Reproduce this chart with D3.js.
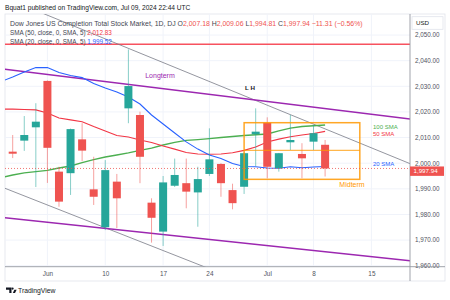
<!DOCTYPE html>
<html><head><meta charset="utf-8">
<script src="https://cdn.jsdelivr.net/npm/d3@7"></script>
<style>body{margin:0;background:#fff}svg{display:block;font-family:"Liberation Sans",Arial,sans-serif}</style>
</head><body><svg id="c" width="450" height="300"></svg>
<script>
// ---- data ----
const candleDates = ["2024-05-29","2024-05-30","2024-05-31","2024-06-03","2024-06-04","2024-06-05","2024-06-06","2024-06-07",
  "2024-06-10","2024-06-11","2024-06-12","2024-06-13","2024-06-14","2024-06-17","2024-06-18","2024-06-20","2024-06-21",
  "2024-06-24","2024-06-25","2024-06-26","2024-06-27","2024-06-28","2024-07-01","2024-07-02","2024-07-03","2024-07-05",
  "2024-07-08","2024-07-09"];
const open  = [2004.5,2008.8,2014.0,2032.1,1996.7,1996.1,2009.3,1989.8,1975.0,1992.8,2021.4,2018.8,1984.6,1973.3,1991.2,1992.2,1988.6,1995.8,1999.7,1989.5,1990.8,2011.3,2015.8,1998.0,2008.15,2003.6,2008.4,2007.18];
const high  = [2011.0,2018.4,2023.4,2032.3,1998.6,2013.5,2015.6,2002.5,2001.2,1995.8,2044.4,2020.1,1986.3,1995.0,2001.8,2001.8,1998.6,2013.6,2000.0,1992.0,2004.2,2021.4,2017.9,2004.0,2018.8,2007.8,2014.9,2009.06];
const low   = [2002.0,2004.8,1990.7,1992.3,1983.0,1987.6,2000.8,1983.7,1973.9,1974.7,2015.6,1992.2,1969.0,1967.7,1990.7,1982.4,1975.2,1995.0,1986.9,1982.0,1988.0,1998.9,1994.1,1996.7,2005.15,1994.1,2005.15,1994.81];
const close = [2003.7,2011.0,2016.2,2006.0,1985.0,2013.3,2004.9,1986.9,1997.3,1986.3,2030.1,2002.5,1978.7,1992.5,1995.4,1988.9,1993.8,2001.5,1992.2,1984.4,2003.9,2012.3,1998.6,2003.9,2009.05,2001.9,2011.7,1997.94];

const smaDates = ["2024-05-28"].concat(candleDates);
const sma20  = [2031.9,2033.6,2035.6,2037.3,2037.3,2035.4,2034.2,2033.4,2031.1,2029.3,2027.8,2025.8,2023.1,2018.8,2015.3,2011.8,2008.3,2005.5,2003.2,2001.8,1999.9,1998.7,1998.6,1998.1,1998.0,1998.6,1998.2,1998.5,1998.7];
const sma50  = [2021.1,2021.1,2020.95,2020.8,2019.6,2017.6,2016.9,2016.2,2014.3,2012.6,2010.8,2010.2,2009.05,2008.1,2006.7,2005.5,2004.2,2003.6,2003.5,2003.6,2004.1,2005.0,2006.3,2008.3,2009.4,2010.3,2011.0,2011.6,2012.4];
const sma100 = [1994.4,1995.4,1996.2,1996.7,1997.2,1998.1,1998.9,2000.2,2001.4,2002.4,2003.2,2004.0,2005.0,2005.9,2007.1,2008.1,2008.9,2009.2,2009.6,2010.0,2010.4,2010.8,2011.1,2011.4,2012.6,2013.7,2014.3,2014.6,2014.9];

const xTickDates  = ["2024-06-03","2024-06-10","2024-06-17","2024-06-24","2024-07-01","2024-07-08","2024-07-15"];
const xTickLabels = ["Jun","10","17","24","Jul","8","15"];
const yTicks = [1960,1970,1980,1990,2000,2010,2020,2030,2040,2050];
const holidays = ["2024-06-19","2024-07-04"];

// drawings (date, price)
const upperChannel = [["2024-05-31",2059.6],["2024-07-19",1998.6]];
const lowerChannel = [["2024-05-28",1990.8],["2024-06-24",1958.8]];
const longtermTop  = [["2024-05-28",2036.8],["2024-07-19",2016.9]];
const longtermBot  = [["2024-05-28",1978.9],["2024-07-19",1961.6]];
const resistance   = 2046.4;
const midRect = {from:"2024-06-27", to:"2024-07-12", top:2015.8, bottom:1993.7, mid:2005.0};

// ---- scales ----
const fmtD = d3.timeFormat("%Y-%m-%d");
const cal = d3.timeDay.range(new Date(2024,4,28), new Date(2024,6,20))
  .filter(d => d.getDay()!==0 && d.getDay()!==6 && !holidays.includes(fmtD(d))).map(fmtD);
const idx = d => cal.indexOf(d);
const x = d3.scaleLinear().domain([1,28]).range([12.7,325.1]);
const y = d3.scaleLinear().domain([1960,2050]).range([265.7,35.05]);
const X = d => x(idx(d));

const L=5, R=410, T=14, B=266.7;
const svg = d3.select("#c");
const RED="#ef5350", GREEN="#26a69a";

// clip
svg.append("defs").append("clipPath").attr("id","pc").append("rect").attr("x",L).attr("y",T).attr("width",R-L).attr("height",B-T);

// header
svg.append("text").attr("x",5).attr("y",10).attr("font-size",6.6).attr("fill","#131722")
  .text("Bquat1 published on TradingView.com, Jul 09, 2024 22:44 UTC");

// panel frame
svg.append("rect").attr("x",L).attr("y",T).attr("width",445-L).attr("height",281-T).attr("fill","#fff").attr("stroke","#e0e3eb").attr("stroke-width",0.8);

// grid
const g = svg.append("g").attr("clip-path","url(#pc)");
g.selectAll(".hg").data(yTicks).join("line").attr("x1",L).attr("x2",R).attr("y1",d=>y(d)).attr("y2",d=>y(d)).attr("stroke","#f0f3fa").attr("stroke-width",1);
g.selectAll(".vg").data(xTickDates).join("line").attr("y1",T).attr("y2",B).attr("x1",d=>X(d)).attr("x2",d=>X(d)).attr("stroke","#f0f3fa").attr("stroke-width",1);

// drawings
const seg = (pts,col,w) => g.append("line").attr("x1",X(pts[0][0])).attr("y1",y(pts[0][1])).attr("x2",X(pts[1][0])).attr("y2",y(pts[1][1])).attr("stroke",col).attr("stroke-width",w);
g.append("line").attr("x1",L).attr("x2",R).attr("y1",y(resistance)).attr("y2",y(resistance)).attr("stroke","#f7525f").attr("stroke-width",1.4);
seg(upperChannel,"#787b86",0.8);
seg(lowerChannel,"#787b86",0.8);
seg(longtermTop,"#9c27b0",1.5);
seg(longtermBot,"#9c27b0",1.5);

// SMAs
const line = arr => d3.line().x((d,i)=>X(smaDates[i])).y(d=>y(d))(arr);
g.append("path").attr("d",line(sma100)).attr("fill","none").attr("stroke","#4caf50").attr("stroke-width",1.4);
g.append("path").attr("d",line(sma50)).attr("fill","none").attr("stroke","#f23645").attr("stroke-width",1.1);
g.append("path").attr("d",line(sma20)).attr("fill","none").attr("stroke","#2962ff").attr("stroke-width",1.1);

// candles
const cd = candleDates.map((d,i)=>({d,o:open[i],h:high[i],l:low[i],c:close[i]}));
g.selectAll(".wk").data(cd).join("line").attr("x1",d=>X(d.d)).attr("x2",d=>X(d.d)).attr("y1",d=>y(d.h)).attr("y2",d=>y(d.l))
  .attr("stroke",d=>d.c>=d.o?GREEN:RED).attr("stroke-opacity",0.55).attr("stroke-width",1);
g.selectAll(".bd").data(cd).join("rect").attr("x",d=>X(d.d)-4).attr("width",8)
  .attr("y",d=>y(Math.max(d.o,d.c))).attr("height",d=>Math.max(1,Math.abs(y(d.o)-y(d.c))))
  .attr("fill",d=>d.c>=d.o?GREEN:RED);

// midterm rectangle
const rx1=X(midRect.from), rx2=X(midRect.to);
g.append("rect").attr("x",rx1).attr("y",y(midRect.top)).attr("width",rx2-rx1).attr("height",y(midRect.bottom)-y(midRect.top))
  .attr("fill","none").attr("stroke","#ff9800").attr("stroke-width",1.5).attr("stroke-opacity",0.85);
g.append("line").attr("x1",rx1).attr("x2",rx2).attr("y1",y(midRect.mid)).attr("y2",y(midRect.mid)).attr("stroke","#ff9800").attr("stroke-width",1.3).attr("stroke-opacity",0.7);

// last price dotted
const last = close[close.length-1];
g.append("line").attr("x1",L).attr("x2",R).attr("y1",y(last)).attr("y2",y(last)).attr("stroke",RED).attr("stroke-width",0.8).attr("stroke-dasharray","1,2");

// annotation texts
svg.append("text").attr("x",160).attr("y",77.5).attr("text-anchor","middle").attr("font-size",7).attr("fill","#9c27b0").text("Longterm");
svg.append("text").attr("x",245).attr("y",90).attr("font-size",6.2).attr("font-weight","bold").attr("fill","#131722").text("L H");
svg.append("text").attr("x",352).attr("y",187.3).attr("text-anchor","middle").attr("font-size",7).attr("fill","#ff9800").text("Midterm");
svg.append("text").attr("x",373).attr("y",128.5).attr("font-size",6).attr("fill","#4caf50").text("100 SMA");
svg.append("text").attr("x",373).attr("y",136.3).attr("font-size",6).attr("fill","#f23645").text("50 SMA");
svg.append("text").attr("x",373).attr("y",166.3).attr("font-size",6).attr("fill","#2962ff").text("20 SMA");

// legend
const lg = svg.append("g").attr("font-size",6.3);
const t1 = lg.append("text").attr("x",10).attr("y",25.5).attr("fill","#434651").attr("font-size",6.9);
t1.append("tspan").text("Dow Jones US Completion Total Stock Market, 1D, DJ  O");
t1.append("tspan").attr("fill",RED).text(d3.format(",.2f")(open[27]));
t1.append("tspan").text(" H");
t1.append("tspan").attr("fill",RED).text(d3.format(",.2f")(high[27]));
t1.append("tspan").text(" L");
t1.append("tspan").attr("fill",RED).text(d3.format(",.2f")(low[27]));
t1.append("tspan").text(" C");
t1.append("tspan").attr("fill",RED).text(d3.format(",.2f")(close[27]) + " \u221211.31 (\u22120.56%)");
const t2 = lg.append("text").attr("x",10).attr("y",35).attr("fill","#434651");
t2.append("tspan").text("SMA (50, close, 0, SMA, 5) ");
t2.append("tspan").attr("fill","#f23645").text("2,012.83");
const t3 = lg.append("text").attr("x",10).attr("y",44.3).attr("fill","#434651");
t3.append("tspan").text("SMA (20, close, 0, SMA, 5) ");
t3.append("tspan").attr("fill","#2962ff").text("1,999.52");

// y axis
const ya = svg.append("g").attr("transform",`translate(${R},0)`)
  .call(d3.axisRight(y).tickValues(yTicks).tickSize(0).tickPadding(5).tickFormat(d3.format(",.2f")));
ya.select(".domain").remove();
ya.selectAll("text").attr("font-size",6.3).attr("fill","#50535e").attr("font-family","Liberation Sans, Arial, sans-serif").attr("dy","0.3em");

// x axis
const xa = svg.append("g").attr("transform",`translate(0,${B})`)
  .call(d3.axisBottom(x).tickValues(xTickDates.map(idx)).tickSize(0).tickPadding(4.5).tickFormat((d,i)=>xTickLabels[i]));
xa.select(".domain").remove();
xa.selectAll("text").attr("font-size",6.4).attr("fill","#50535e").attr("font-family","Liberation Sans, Arial, sans-serif");

// separators
svg.append("line").attr("x1",R).attr("x2",R).attr("y1",T).attr("y2",281).attr("stroke","#9598a1").attr("stroke-width",0.9);
svg.append("line").attr("x1",L).attr("x2",445).attr("y1",B).attr("y2",B).attr("stroke","#9598a1").attr("stroke-width",0.9);

// USD box
svg.append("rect").attr("x",412).attr("y",16.7).attr("width",31).attr("height",12.6).attr("fill","#fff").attr("stroke","#e0e3eb").attr("stroke-width",0.8);
svg.append("text").attr("x",416).attr("y",25.3).attr("font-size",6.2).attr("fill","#131722").text("USD");

// last price tag
svg.append("rect").attr("x",R).attr("y",y(last)-2).attr("width",34).attr("height",9.4).attr("fill",RED);
svg.append("text").attr("x",R+3.5).attr("y",y(last)+4.9).attr("font-size",6.2).attr("fill","#fff").text(d3.format(",.2f")(last));

// footer
const ft = svg.append("g").attr("fill","#131722");
ft.append("path").attr("d","M6,287.5 h5.5 v5.5 h-2.2 v-3.3 h-3.3 z");
ft.append("circle").attr("cx",12.6).attr("cy",288.6).attr("r",1.1);
ft.append("path").attr("d","M12.8,293 l1.6,-3.2 h2.2 l-1.6,3.2 z");
svg.append("text").attr("x",18).attr("y",293).attr("font-size",6.8).attr("fill","#131722").text("TradingView");
</script></body></html>
